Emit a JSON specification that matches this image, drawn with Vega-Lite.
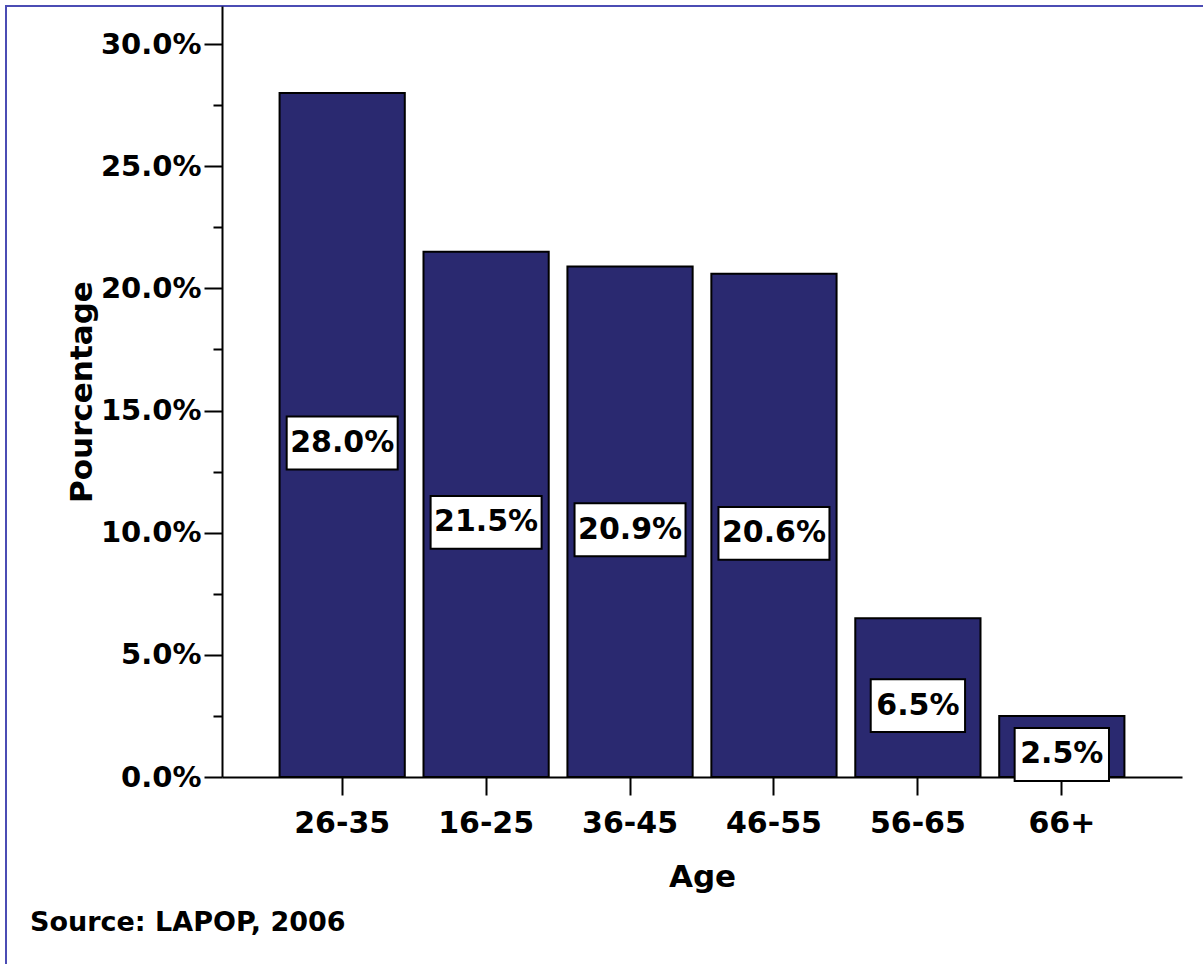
{
  "$schema": "https://vega.github.io/schema/vega-lite/v6.json",
  "width": 1215,
  "height": 975,
  "padding": {"left": 6, "top": 6, "right": 0, "bottom": 0},
  "background": "white",
  "config": {
    "view": {"stroke": "#4b4cb4", "strokeWidth": 2},
    "font": "DejaVu Sans"
  },
  "title": {
    "text": "Source: LAPOP, 2006",
    "orient": "top",
    "anchor": "start",
    "frame": "group",
    "offset": -952,
    "dx": 24,
    "baseline": "alphabetic",
    "font": "DejaVu Sans",
    "fontSize": 27,
    "fontWeight": "bold",
    "color": "black"
  },
  "data": {
    "values": [
      {"age": "26-35", "pct": 0.28},
      {"age": "16-25", "pct": 0.215},
      {"age": "36-45", "pct": 0.209},
      {"age": "46-55", "pct": 0.206},
      {"age": "56-65", "pct": 0.065},
      {"age": "66+", "pct": 0.025}
    ]
  },
  "resolve": {"scale": {"y": "independent"}},
  "layer": [
    {
      "mark": {"type": "bar", "fill": "#2a2970", "stroke": "black", "strokeWidth": 2},
      "encoding": {
        "x": {
          "field": "age",
          "type": "nominal",
          "sort": null,
          "scale": {"range": [216, 1176], "paddingInner": 0.13, "paddingOuter": 0.4},
          "axis": {
            "orient": "bottom",
            "offset": -204,
            "title": "Age",
            "labelAngle": 0,
            "domainColor": "black",
            "domainWidth": 2,
            "tickColor": "black",
            "tickWidth": 2,
            "tickSize": 18,
            "labelFont": "DejaVu Sans",
            "labelFontSize": 30,
            "labelFontWeight": "bold",
            "labelColor": "black",
            "labelPadding": 13,
            "titleFont": "DejaVu Sans",
            "titleFontSize": 31,
            "titleFontWeight": "bold",
            "titleColor": "black",
            "titlePadding": 24
          }
        },
        "y": {
          "field": "pct",
          "type": "quantitative",
          "scale": {"domain": [0, 0.3156], "range": [771, 0], "nice": false},
          "axis": {
            "orient": "left",
            "offset": -216,
            "values": [0, 0.05, 0.1, 0.15, 0.2, 0.25, 0.3],
            "format": ".1%",
            "grid": false,
            "title": "Pourcentage",
            "domainColor": "black",
            "domainWidth": 2,
            "tickColor": "black",
            "tickWidth": 2,
            "tickSize": 18,
            "labelFont": "DejaVu Sans",
            "labelFontSize": 29,
            "labelFontWeight": "bold",
            "labelColor": "black",
            "labelPadding": 3,
            "titleFont": "DejaVu Sans",
            "titleFontSize": 31,
            "titleFontWeight": "bold",
            "titleColor": "black",
            "titlePadding": 2
          }
        }
      }
    },
    {
      "encoding": {
        "x": {"field": "age", "type": "nominal", "sort": null},
        "y": {
          "field": "pct",
          "type": "quantitative",
          "scale": {"domain": [0, 0.6312], "range": [771, 0], "nice": false},
          "axis": {
            "orient": "left",
            "offset": -216,
            "values": [0.05, 0.15, 0.25, 0.35, 0.45, 0.55],
            "labels": false,
            "domain": false,
            "grid": false,
            "title": null,
            "tickColor": "black",
            "tickWidth": 2,
            "tickSize": 9
          }
        }
      },
      "layer": [
        {
          "mark": {
            "type": "point",
            "filled": true,
            "fill": "white",
            "stroke": "black",
            "strokeWidth": 2,
            "opacity": 1,
            "fillOpacity": 1,
            "strokeOpacity": 1,
            "size": 12321,
            "yOffset": 8
          },
          "encoding": {
            "shape": {
              "condition": {"test": "datum.pct < 0.1", "value": "M-0.85,-0.477H0.85V0.477H-0.85Z"},
              "value": "M-1,-0.477H1V0.477H-1Z"
            }
          }
        },
        {
          "mark": {
            "type": "text",
            "font": "DejaVu Sans",
            "fontSize": 30,
            "fontWeight": "bold",
            "color": "black",
            "baseline": "middle",
            "align": "center",
            "yOffset": 8
          },
          "encoding": {
            "text": {"field": "pct", "type": "quantitative", "format": ".1%"}
          }
        }
      ]
    }
  ]
}
